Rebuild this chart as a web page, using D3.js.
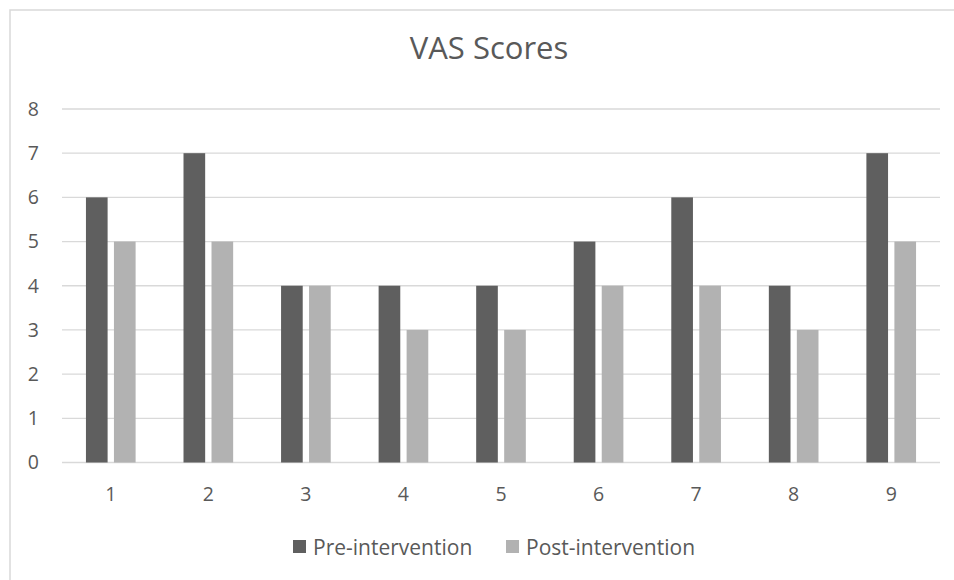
<!DOCTYPE html>
<html><head><meta charset="utf-8">
<script src="https://cdn.jsdelivr.net/npm/d3@7"></script>
<style>body{margin:0;background:#fff}svg{display:block}text{font-family:"Open Sans",sans-serif;fill:#595959}</style>
</head><body><svg width="954" height="580"></svg>
<script>
const categories = ["1","2","3","4","5","6","7","8","9"];
const preValues = [6,7,4,4,4,5,6,4,7];
const postValues = [5,5,4,3,3,4,4,3,5];
const seriesNames = ["Pre-intervention","Post-intervention"];
const seriesColors = ["#5f5f5f","#b2b2b2"];
const yTicks = [0,1,2,3,4,5,6,7,8];
const title = "VAS Scores";

const svg = d3.select("svg");
svg.append("rect").attr("x",10).attr("y",10).attr("width",1000).attr("height",1000)
  .attr("fill","none").attr("stroke","#d9d9d9").attr("stroke-width",1.5);

const pLeft=62,pRight=940,pTop=109,pBottom=462.5;
const x = d3.scaleBand().domain(categories).range([pLeft,pRight]);
const y = d3.scaleLinear().domain([0,8]).range([pBottom,pTop]);
const barW = x.bandwidth()*0.222, gap = x.bandwidth()*0.065;
const sub = d3.scaleOrdinal().domain([0,1]).range([-(barW+gap/2), gap/2]);

svg.append("g").selectAll("line").data(yTicks).join("line")
  .attr("x1",pLeft).attr("x2",pRight).attr("y1",d=>y(d)).attr("y2",d=>y(d))
  .attr("stroke","#d9d9d9").attr("stroke-width",1.3);

const data = categories.map((c,i)=>({c, vals:[preValues[i],postValues[i]]}));
const groups = svg.append("g").selectAll("g").data(data).join("g");
groups.selectAll("rect").data(d=>d.vals.map((v,k)=>({c:d.c,v,k}))).join("rect")
  .attr("x",d=>x(d.c)+x.bandwidth()/2+sub(d.k))
  .attr("y",d=>y(d.v)).attr("width",barW).attr("height",d=>y(0)-y(d.v))
  .attr("fill",d=>seriesColors[d.k]);

const yAxis = d3.axisLeft(y).tickValues(yTicks).tickSize(0).tickPadding(0);
const ya = svg.append("g").attr("transform","translate(39,0)").call(yAxis);
ya.select(".domain").remove();
ya.selectAll("text").style("font-size","19.5px").style("fill","#595959").style("font-family","'Open Sans',sans-serif");

const xAxis = d3.axisBottom(x).tickSize(0).tickPadding(0);
const xa = svg.append("g").attr("transform","translate(0,501)").call(xAxis);
xa.select(".domain").remove();
xa.selectAll("text").attr("dy","0").attr("y",0).style("font-size","19.5px").style("fill","#595959").style("font-family","'Open Sans',sans-serif");

svg.append("text").attr("x",489).attr("y",59).attr("text-anchor","middle")
  .style("font-size","31px").text(title);

const leg = svg.append("g");
const legX = [293,506];
seriesNames.forEach((n,i)=>{
  leg.append("rect").attr("x",legX[i]).attr("y",540).attr("width",13).attr("height",13).attr("fill",seriesColors[i]);
  leg.append("text").attr("x",legX[i]+20).attr("y",555).style("font-size","21px").text(n);
});
</script></body></html>
